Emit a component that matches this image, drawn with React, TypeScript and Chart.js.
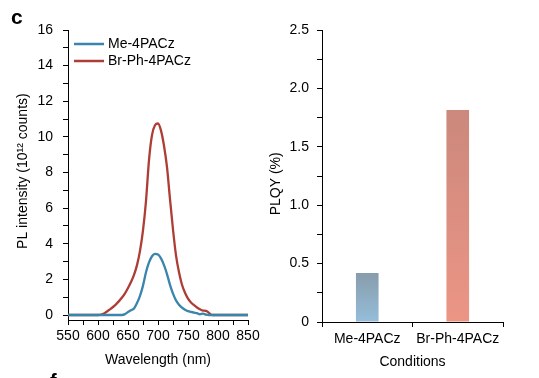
import React, { useEffect, useRef } from "react";
import { Chart, registerables } from "chart.js";

Chart.register(...registerables);

// ---------- data ----------
const wavelengths = [550, 600, 605, 610, 615, 620, 625, 630, 635, 640, 645, 650, 655, 660, 665, 670, 675, 680, 685, 690, 695, 700, 705, 710, 715, 720, 725, 730, 735, 740, 745, 750, 755, 760, 765, 770, 775, 780, 785, 790, 850];
const meIntensity = [0, 0, 0, 0, 0, 0, 0, 0, 0, 0, 0.05, 0.17, 0.27, 0.37, 0.68, 1.08, 1.65, 2.4, 2.95, 3.3, 3.43, 3.4, 3.18, 2.8, 2.3, 1.69, 1.2, 0.82, 0.58, 0.42, 0.3, 0.22, 0.17, 0.13, 0.1, 0.04, 0.08, 0.02, 0, 0, 0];
const brIntensity = [0, 0, 0.02, 0.08, 0.2, 0.32, 0.45, 0.6, 0.78, 0.98, 1.22, 1.52, 1.85, 2.25, 2.8, 3.6, 4.75, 6.4, 8.7, 10.1, 10.65, 10.75, 10.35, 9.5, 8.3, 6.5, 4.8, 3.35, 2.4, 1.7, 1.25, 0.92, 0.7, 0.55, 0.42, 0.32, 0.25, 0.23, 0.12, 0, 0];
const seriesNames = ["Me-4PACz", "Br-Ph-4PACz"];

const wavelengthTicks = [550, 575, 600, 625, 650, 675, 700, 725, 750, 775, 800, 825, 850];
const intensityTicks = [0, 1, 2, 3, 4, 5, 6, 7, 8, 9, 10, 11, 12, 13, 14, 15, 16];

const conditions = ["Me-4PACz", "Br-Ph-4PACz"];
const plqy = [0.42, 1.815];
const plqyTicks = [0, 0.25, 0.5, 0.75, 1.0, 1.25, 1.5, 1.75, 2.0, 2.25, 2.5];

// ---------- styles ----------
const FONT = "'Liberation Sans', Arial, Helvetica, sans-serif";
const lineColors = ["#3a85ab", "#ad3d35"];
const barTopColors = ["#889cab", "#cb887c"];
const barBottomColors = ["#95bedb", "#ec9585"];

Chart.defaults.font.family = FONT;
Chart.defaults.color = "#000";

function axisBase() {
  return {
    border: { display: true, color: "#000", width: 1 },
    grid: {
      display: true,
      drawOnChartArea: false,
      drawTicks: true,
      tickLength: 5,
      tickColor: "#000",
      tickWidth: 1,
    },
  };
}

// legend drawn inside the plot area, top-left
const insideLegend = {
  id: "insideLegend",
  afterDraw(chart: any) {
    const { ctx, chartArea } = chart;
    ctx.save();
    ctx.font = `14px ${FONT}`;
    ctx.textBaseline = "middle";
    ctx.textAlign = "left";
    chart.data.datasets.forEach((ds: any, i: number) => {
      const y = chartArea.top + 14 + i * 17;
      const x0 = chartArea.left + 6;
      ctx.strokeStyle = ds.borderColor;
      ctx.lineWidth = 2.5;
      ctx.beginPath();
      ctx.moveTo(x0, y);
      ctx.lineTo(x0 + 30, y);
      ctx.stroke();
      ctx.fillStyle = "#000";
      ctx.fillText(ds.label, x0 + 34, y + 0.5);
    });
    ctx.restore();
  },
};

function LeftChart() {
  const ref = useRef<HTMLCanvasElement>(null);
  useEffect(() => {
    if (!ref.current) return;
    const chart = new Chart(ref.current, {
      type: "line",
      data: {
        datasets: [
          {
            label: seriesNames[0],
            data: wavelengths.map((w, i) => ({ x: w, y: meIntensity[i] })),
            borderColor: lineColors[0],
            backgroundColor: lineColors[0],
            borderWidth: 2.3,
            pointRadius: 0,
            cubicInterpolationMode: "monotone",
            fill: false,
          },
          {
            label: seriesNames[1],
            data: wavelengths.map((w, i) => ({ x: w, y: brIntensity[i] })),
            borderColor: lineColors[1],
            backgroundColor: lineColors[1],
            borderWidth: 2.3,
            pointRadius: 0,
            cubicInterpolationMode: "monotone",
            fill: false,
          },
        ],
      },
      options: {
        responsive: false,
        animation: false,
        layout: { padding: { left: 15, right: 22, top: 30, bottom: 6 } },
        plugins: {
          tooltip: { enabled: false },
          legend: { display: false },
        },
        scales: {
          x: {
            type: "linear",
            min: 550,
            max: 850,
            ...axisBase(),
            afterBuildTicks: (s: any) => {
              s.ticks = wavelengthTicks.map((v) => ({ value: v }));
            },
            afterFit: (s: any) => {
              s.height = 52;
            },
            ticks: {
              autoSkip: false,
              maxRotation: 0,
              padding: 3,
              font: { size: 14 },
              color: "#000",
              callback: (v: any) => (Number(v) % 50 === 0 ? String(v) : ""),
            },
            title: {
              display: true,
              text: "Wavelength (nm)",
              font: { size: 14 },
              color: "#000",
              padding: { top: 0, bottom: 3 },
            },
          },
          y: {
            type: "linear",
            min: -0.28,
            max: 16,
            bounds: "data",
            ...axisBase(),
            afterBuildTicks: (s: any) => {
              s.ticks = intensityTicks.map((v) => ({ value: v }));
            },
            afterFit: (s: any) => {
              s.width = 53;
            },
            ticks: {
              autoSkip: false,
              padding: 10,
              font: { size: 14 },
              color: "#000",
              callback: (v: any) => (Number(v) % 2 === 0 ? String(v) : ""),
            },
            title: {
              display: true,
              text: "  PL intensity (10¹² counts)",
              font: { size: 14 },
              color: "#000",
              padding: { top: 0, bottom: 0 },
            },
          },
        },
      } as any,
      plugins: [insideLegend],
    });
    return () => chart.destroy();
  }, []);
  return <canvas ref={ref} width={270} height={378} style={{ width: 270, height: 378, display: "block" }} />;
}

function RightChart() {
  const ref = useRef<HTMLCanvasElement>(null);
  useEffect(() => {
    if (!ref.current) return;
    const chart = new Chart(ref.current, {
      type: "bar",
      data: {
        labels: conditions,
        datasets: [
          {
            label: "PLQY",
            data: plqy,
            barPercentage: 0.5,
            categoryPercentage: 0.5,
            borderWidth: 0,
            backgroundColor: (ctx: any) => {
              const i = ctx.dataIndex ?? 0;
              const chart = ctx.chart;
              const area = chart.chartArea;
              const ys = chart.scales?.y;
              if (!area || !ys || ctx.type !== "data") return barBottomColors[i];
              const top = ys.getPixelForValue(ctx.raw as number);
              const bottom = ys.getPixelForValue(0);
              if (!isFinite(top) || !isFinite(bottom) || top === bottom) return barBottomColors[i];
              const g = chart.ctx.createLinearGradient(0, top, 0, bottom);
              g.addColorStop(0, barTopColors[i]);
              g.addColorStop(1, barBottomColors[i]);
              return g;
            },
          },
        ],
      },
      options: {
        responsive: false,
        animation: false,
        layout: { padding: { left: 0, right: 36, top: 30, bottom: 6 } },
        plugins: { legend: { display: false }, tooltip: { enabled: false } },
        scales: {
          x: {
            type: "category",
            offset: true,
            ...axisBase(),
            afterFit: (s: any) => {
              s.height = 50;
            },
            ticks: { padding: 4, font: { size: 14 }, color: "#000", maxRotation: 0 },
            title: {
              display: true,
              text: "Conditions",
              font: { size: 14 },
              color: "#000",
              padding: { top: 0, bottom: 1 },
            },
          },
          y: {
            type: "linear",
            min: 0,
            max: 2.5,
            bounds: "data",
            ...axisBase(),
            afterBuildTicks: (s: any) => {
              s.ticks = plqyTicks.map((v) => ({ value: v }));
            },
            afterFit: (s: any) => {
              s.width = 54;
            },
            ticks: {
              autoSkip: false,
              padding: 8,
              font: { size: 14 },
              color: "#000",
              callback: (v: any) => {
                const n = Number(v);
                if (Math.abs((n * 2) % 1) > 1e-9) return "";
                return n === 0 ? "0" : n.toFixed(1);
              },
            },
            title: {
              display: true,
              text: "PLQY (%)    ",
              font: { size: 14 },
              color: "#000",
              padding: { top: 0, bottom: 0 },
            },
          },
        },
      } as any,
    });
    return () => chart.destroy();
  }, []);
  return <canvas ref={ref} width={271} height={378} style={{ width: 271, height: 378, display: "block" }} />;
}

export default function App() {
  return (
    <div
      style={{
        position: "fixed",
        left: 0,
        top: 0,
        width: 539,
        height: 378,
        overflow: "hidden",
        background: "#fff",
      }}
    >
      <div style={{ position: "absolute", left: 0, top: 0 }}>
        <LeftChart />
      </div>
      <div style={{ position: "absolute", left: 268, top: 0 }}>
        <RightChart />
      </div>
      <div
        style={{
          position: "absolute",
          left: 11,
          top: 6,
          fontFamily: FONT,
          fontWeight: "bold",
          fontSize: 21,
          lineHeight: "21px",
          color: "#000",
        }}
      >
        c
      </div>
      <div
        style={{
          position: "absolute",
          left: 50,
          top: 371,
          fontFamily: FONT,
          fontWeight: "bold",
          fontSize: 20,
          lineHeight: "20px",
          color: "#000",
        }}
      >
        f
      </div>
    </div>
  );
}
